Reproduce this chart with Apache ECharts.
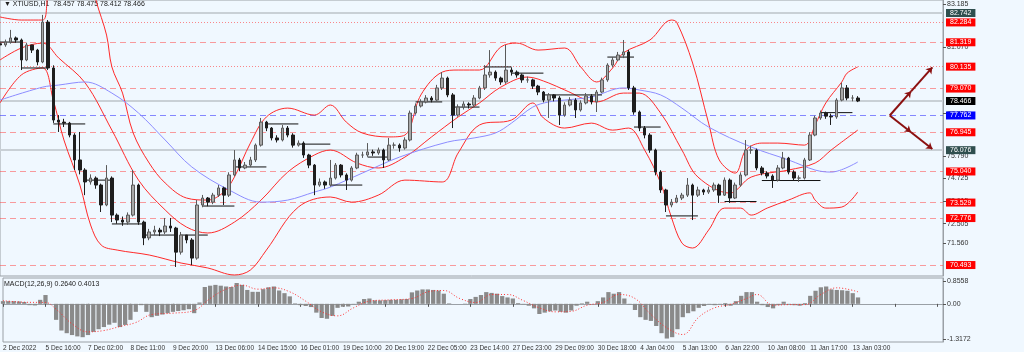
<!DOCTYPE html>
<html>
<head>
<meta charset="utf-8">
<script src="https://cdn.jsdelivr.net/npm/echarts@6/dist/echarts.min.js"></script>
<style>
html, body { margin: 0; padding: 0; background: #f0f8ff; }
#chart { width: 1024px; height: 352px; }
</style>
</head>
<body>
<div id="chart"></div>
<script>
// time labels, one every 8 candles (each candle = 4 x H1)
const timeLabels = ['2 Dec 2022', '5 Dec 16:00', '7 Dec 02:00', '8 Dec 11:00', '9 Dec 20:00', '13 Dec 06:00',
    '14 Dec 15:00', '16 Dec 01:00', '19 Dec 10:00', '20 Dec 19:00', '22 Dec 05:00', '23 Dec 14:00',
    '27 Dec 23:00', '29 Dec 09:00', '30 Dec 18:00', '4 Jan 04:00', '5 Jan 13:00', '6 Jan 22:00',
    '10 Jan 08:00', '11 Jan 17:00', '13 Jan 03:00']
const slotCount = 178

// open, close, low, high
const ohlc = [
    [81.25, 81.19, 81.05, 81.40], [81.19, 81.33, 81.10, 81.45], [81.33, 81.53, 81.25, 81.92], [81.53, 81.43, 81.30, 81.60],
    [81.43, 80.46, 79.97, 81.50], [80.46, 81.19, 80.40, 81.30], [81.19, 80.94, 80.80, 81.10], [80.94, 80.36, 80.20, 81.00],
    [80.36, 82.30, 80.30, 82.65], [82.30, 80.07, 79.97, 82.40], [80.07, 77.54, 77.40, 80.20], [77.54, 77.44, 76.96, 77.78],
    [77.44, 77.39, 77.20, 77.60], [77.39, 76.81, 76.70, 77.45], [76.81, 75.60, 75.11, 76.90], [75.60, 75.11, 74.90, 76.96],
    [75.11, 74.53, 73.89, 75.20], [74.53, 74.72, 74.40, 74.90], [74.72, 74.38, 74.20, 74.80], [74.38, 73.41, 73.07, 74.45],
    [73.41, 74.72, 73.35, 75.35], [74.72, 72.92, 72.58, 74.80], [72.92, 72.68, 72.50, 73.00], [72.68, 72.58, 72.40, 72.85],
    [72.58, 72.92, 72.45, 73.05], [72.92, 74.38, 72.85, 75.11], [74.38, 72.58, 72.45, 74.45], [72.58, 71.81, 71.46, 72.65],
    [71.81, 72.10, 71.70, 72.25], [72.10, 72.19, 71.95, 72.40], [72.19, 72.10, 71.90, 72.30], [72.10, 72.39, 72.00, 72.78],
    [72.39, 72.29, 72.10, 72.78], [72.29, 71.12, 70.40, 72.35], [71.12, 71.95, 71.00, 72.10], [71.95, 71.71, 71.55, 71.90],
    [71.71, 70.83, 70.49, 71.80], [70.83, 73.41, 70.75, 73.65], [73.41, 73.75, 73.30, 73.90], [73.75, 73.55, 73.35, 73.80],
    [73.55, 73.89, 73.45, 74.00], [73.89, 74.24, 73.80, 74.38], [74.24, 73.89, 73.41, 74.30], [73.89, 74.87, 73.80, 75.00],
    [74.87, 75.60, 74.80, 76.08], [75.60, 75.21, 75.05, 75.70], [75.21, 75.35, 75.15, 75.50], [75.35, 75.60, 75.25, 75.75],
    [75.60, 76.32, 75.50, 76.40], [76.32, 77.44, 76.25, 77.64], [77.44, 77.15, 77.00, 77.50], [77.15, 76.67, 76.55, 77.20],
    [76.67, 76.57, 76.45, 76.80], [76.57, 77.15, 76.50, 77.30], [77.15, 76.81, 76.70, 77.25], [76.81, 76.32, 76.20, 76.90],
    [76.32, 76.42, 76.25, 76.55], [76.42, 75.84, 75.70, 76.50], [75.84, 75.35, 75.20, 75.90], [75.35, 74.38, 73.89, 75.40],
    [74.38, 74.53, 74.30, 74.70], [74.53, 74.38, 74.20, 74.60], [74.38, 74.72, 74.30, 75.60], [74.72, 75.35, 74.65, 75.45],
    [75.35, 74.87, 74.75, 75.40], [74.87, 74.62, 74.14, 74.95], [74.62, 75.21, 74.55, 75.30], [75.21, 75.84, 75.15, 75.95],
    [75.84, 75.84, 75.70, 76.00], [75.84, 75.99, 75.75, 76.42], [75.99, 75.94, 75.80, 76.10], [75.94, 76.08, 75.85, 76.20],
    [76.08, 75.60, 75.21, 76.15], [75.60, 76.32, 75.55, 76.67], [76.32, 76.32, 76.15, 76.45], [76.32, 76.18, 76.00, 76.40],
    [76.18, 76.57, 76.10, 76.70], [76.57, 77.88, 76.50, 78.00], [77.88, 78.22, 77.80, 78.35], [78.22, 78.42, 78.15, 78.55],
    [78.42, 78.61, 78.35, 78.75], [78.61, 78.51, 78.40, 78.70], [78.51, 79.10, 78.45, 79.25], [79.10, 79.58, 79.00, 79.87],
    [79.58, 78.76, 78.65, 79.65], [78.76, 77.78, 77.15, 78.85], [77.78, 78.17, 77.70, 78.30], [78.17, 78.32, 78.05, 78.45],
    [78.32, 78.27, 78.10, 78.40], [78.27, 78.61, 78.20, 78.75], [78.61, 79.10, 78.55, 79.20], [79.10, 79.73, 79.00, 80.21],
    [79.73, 79.87, 79.60, 80.94], [79.87, 79.58, 79.45, 79.95], [79.58, 79.39, 79.25, 79.65], [79.39, 79.97, 79.30, 81.19],
    [79.97, 79.87, 79.70, 80.10], [79.87, 79.73, 79.60, 79.95], [79.73, 79.49, 79.35, 79.80], [79.49, 79.49, 79.35, 79.65],
    [79.49, 79.19, 79.05, 79.55], [79.19, 78.90, 78.75, 79.25], [78.90, 78.51, 78.40, 78.95], [78.51, 78.76, 77.64, 78.85],
    [78.76, 78.61, 78.45, 78.80], [78.61, 77.78, 77.30, 78.70], [77.78, 78.27, 77.70, 78.40], [78.27, 78.51, 78.20, 78.65],
    [78.51, 78.03, 77.64, 78.60], [78.03, 78.37, 77.95, 78.50], [78.37, 78.71, 78.30, 78.85], [78.71, 78.42, 78.30, 78.80],
    [78.42, 78.90, 77.93, 79.00], [78.90, 79.49, 78.85, 79.60], [79.49, 80.21, 79.40, 80.30], [80.21, 80.46, 80.10, 80.60],
    [80.46, 80.70, 80.40, 80.85], [80.70, 80.85, 80.55, 81.43], [80.85, 79.10, 79.00, 80.95], [79.10, 77.93, 77.80, 79.20],
    [77.93, 77.15, 77.00, 78.00], [77.15, 76.81, 76.65, 77.25], [76.81, 76.08, 75.95, 76.90], [76.08, 75.01, 74.85, 76.15],
    [75.01, 74.14, 74.00, 75.10], [74.14, 73.41, 73.07, 74.20], [73.41, 73.55, 73.30, 73.70], [73.55, 73.75, 73.50, 73.90],
    [73.75, 73.89, 73.65, 74.00], [73.89, 74.38, 73.80, 74.72], [74.38, 73.89, 72.68, 74.45], [73.89, 74.14, 73.80, 74.30],
    [74.14, 74.04, 73.90, 74.20], [74.04, 74.14, 73.95, 74.30], [74.14, 74.38, 74.05, 74.50], [74.38, 73.89, 73.51, 74.45],
    [73.89, 74.62, 73.85, 74.75], [74.62, 73.75, 73.51, 74.70], [73.75, 74.38, 73.70, 74.50], [74.38, 74.87, 74.30, 75.00],
    [74.87, 76.08, 74.80, 76.57], [76.08, 76.08, 75.90, 76.30], [76.08, 75.21, 75.10, 76.15], [75.21, 74.96, 74.85, 75.30],
    [74.96, 74.82, 74.70, 75.05], [74.82, 74.62, 74.24, 74.90], [74.62, 75.21, 74.55, 75.35], [75.21, 75.69, 75.15, 75.99],
    [75.69, 75.01, 74.90, 75.75], [75.01, 74.72, 74.60, 75.10], [74.72, 74.72, 74.53, 74.85], [74.72, 75.60, 74.65, 75.70],
    [75.60, 76.81, 75.55, 76.95], [76.81, 77.64, 76.75, 77.75], [77.64, 77.88, 77.55, 78.00], [77.88, 77.73, 77.60, 77.95],
    [77.73, 77.69, 77.30, 77.85], [77.69, 78.51, 77.60, 78.60], [78.51, 79.10, 78.45, 79.35], [79.10, 78.61, 78.50, 79.24],
    [78.61, 78.61, 78.45, 78.75], [78.61, 78.466, 78.412, 78.70]
]

// bollinger bands and moving average, [candle index, price]
const bbUpper = [[0, 82.55], [4, 82.40], [8, 82.40], [9, 83.62], [11, 85.32], [14, 85.80], [17, 84.59], [18, 83.37],
    [20, 81.67], [21, 80.12], [23, 78.85], [25, 76.91], [28, 75.45], [31, 74.48], [35, 73.75], [39, 73.65], [42, 74.04],
    [44, 74.77], [47, 76.42], [50, 77.69], [54, 78.12], [59, 77.78], [62, 78.27], [65, 77.44], [68, 76.91], [73, 76.72],
    [76, 76.81], [79, 78.76], [83, 79.87], [86, 79.97], [90, 79.97], [94, 81.09], [97, 81.28], [101, 80.94], [106, 81.04],
    [109, 80.12], [112, 79.39], [115, 80.07], [117, 80.80], [122, 81.43], [126, 82.40], [127, 82.30], [130, 80.31],
    [133, 77.39], [135, 75.60], [138, 74.96], [140, 76.08], [143, 76.42], [146, 76.42], [151, 76.32], [153, 77.30],
    [155, 78.37], [158, 79.39], [159, 79.82], [161, 80.12]]
const bbMiddle = [[0, 80.46], [4, 81.04], [8, 81.28], [11, 80.56], [16, 79.34], [21, 77.05], [26, 74.62], [31, 73.17],
    [35, 72.34], [39, 72.05], [44, 72.58], [49, 73.65], [54, 75.01], [59, 75.84], [62, 76.08], [67, 75.45], [71, 75.21],
    [76, 75.74], [81, 76.72], [86, 77.69], [90, 78.37], [94, 79.14], [99, 79.63], [103, 79.34], [106, 79.00], [112, 78.42],
    [117, 78.85], [120, 78.85], [124, 77.88], [128, 76.08], [131, 74.77], [137, 73.99], [141, 74.77], [148, 75.11],
    [153, 75.45], [156, 76.08], [161, 77.05]]
const bbLower = [[0, 78.37], [4, 79.73], [8, 80.07], [10, 78.51], [12, 76.57], [15, 74.38], [17, 72.44], [19, 71.46],
    [22, 71.22], [28, 70.98], [34, 70.59], [39, 70.35], [44, 70.01], [47, 70.25], [50, 71.22], [56, 73.31], [62, 73.80],
    [66, 73.55], [71, 73.89], [76, 74.62], [83, 74.53], [86, 75.94], [90, 77.30], [96, 77.54], [100, 78.37], [102, 77.64],
    [106, 77.15], [111, 77.39], [115, 77.05], [118, 77.15], [121, 76.08], [124, 74.48], [126, 72.83], [128, 71.56],
    [130, 71.32], [133, 72.19], [136, 73.26], [139, 73.26], [141, 72.92], [144, 73.26], [148, 73.65], [152, 74.00],
    [153, 73.65], [155, 73.26], [158, 73.31], [161, 74.04]]
const maLine = [[0, 78.51], [8, 79.14], [11, 79.24], [16, 79.39], [21, 78.85], [26, 77.88], [31, 76.57], [36, 75.26],
    [43, 74.14], [49, 73.55], [54, 73.65], [59, 74.04], [62, 74.28], [68, 74.96], [75, 75.74], [84, 76.47], [89, 76.67],
    [93, 76.91], [96, 77.39], [100, 78.17], [103, 78.42], [106, 78.51], [111, 78.66], [117, 79.10], [120, 79.00],
    [124, 78.76], [128, 78.12], [133, 77.20], [141, 76.23], [148, 75.60], [153, 75.11], [156, 75.01], [161, 75.50]]

// daily open segments: [from index, to index, price]
const dayOpens = [[0, 4, 81.33], [4, 9, 80.07], [10, 16, 77.35], [16, 21, 74.62], [21, 27, 72.49], [27, 33, 71.95],
    [34, 39, 71.95], [38, 44, 73.36], [44, 50, 75.26], [50, 56, 77.35], [56, 62, 76.37], [62, 68, 74.38], [69, 73, 75.74],
    [78, 83, 78.42], [85, 90, 78.17], [91, 96, 80.12], [96, 102, 79.82], [102, 113, 78.76], [114, 119, 80.60],
    [119, 124, 77.20], [125, 131, 72.88], [136, 142, 73.58], [143, 154, 74.60], [154, 160, 77.90]]

// levels
const redDashLevels = [81.319, 79.070, 76.945, 75.040, 73.529, 72.776, 70.493]
const redDotLevels = [82.284, 80.135]
const blueLevel = 77.762
const greyLevels = [82.742, 76.076]
const bidLevel = 78.466
const priceTicks = [83.185, 81.070, 77.850, 75.790, 74.725, 73.615, 72.505, 71.560]

// projection arrows: [from index, from price, to index, to price]
const arrows = [[167, 77.762, 171, 78.93], [171, 78.93, 175, 80.10], [167, 77.762, 171, 76.95], [171, 76.95, 175, 76.13]]

// MACD histogram per candle and signal line
const macdHist = [0.10, 0.10, 0.10, 0.09, 0.07, -0.05, -0.06, 0.15, 0.33, 0.00, -0.60, -1.00, -1.10, -1.17, -1.22, -1.25,
    -1.17, -1.05, -0.95, -0.87, -0.78, -0.71, -0.87, -0.79, -0.60, -0.30, -0.05, -0.30, -0.50, -0.45, -0.40, -0.35,
    -0.30, -0.27, -0.24, -0.20, -0.35, 0.05, 0.63, 0.68, 0.71, 0.68, 0.65, 0.63, 0.78, 0.71, 0.52, 0.45, 0.45, 0.55,
    0.62, 0.65, 0.50, 0.40, 0.28, 0.02, -0.05, -0.08, -0.12, -0.33, -0.53, -0.56, -0.45, -0.15, -0.11, -0.10, -0.02,
    0.08, 0.18, 0.20, 0.13, 0.13, 0.14, 0.15, 0.15, 0.17, 0.18, 0.43, 0.50, 0.54, 0.54, 0.52, 0.50, 0.38, 0.02, 0.00,
    0.00, 0.01, 0.18, 0.26, 0.33, 0.44, 0.41, 0.38, 0.29, 0.24, 0.20, 0.03, -0.02, -0.07, -0.17, -0.38, -0.33, -0.28,
    -0.25, -0.30, -0.33, -0.25, -0.07, 0.02, 0.08, 0.00, 0.10, 0.24, 0.44, 0.38, 0.44, 0.20, -0.02, -0.23, -0.50, -0.60,
    -0.64, -0.83, -1.10, -1.30, -1.25, -0.95, -0.50, -0.35, -0.28, -0.15, -0.08, -0.02, -0.05, -0.02, 0.03, -0.07, 0.10,
    0.30, 0.44, 0.44, 0.08, -0.05, -0.12, -0.17, -0.05, 0.08, -0.02, -0.05, -0.07, 0.03, 0.30, 0.49, 0.62, 0.65, 0.54,
    0.52, 0.51, 0.49, 0.40, 0.24]
const macdSignal = [[0, 0.12], [4, 0.06], [8, 0.05], [10, -0.2], [13, -0.75], [16, -1.05], [19, -1.0], [22, -0.85],
    [25, -0.7], [28, -0.4], [32, -0.35], [36, -0.25], [39, 0.2], [42, 0.55], [45, 0.7], [48, 0.55], [51, 0.6], [54, 0.45],
    [57, 0.1], [60, -0.3], [63, -0.45], [66, -0.15], [69, 0.1], [73, 0.15], [77, 0.2], [80, 0.45], [83, 0.5], [86, 0.2],
    [89, 0.05], [92, 0.35], [95, 0.35], [98, 0.12], [101, -0.15], [104, -0.3], [107, -0.28], [110, -0.05], [113, 0.05],
    [116, 0.35], [119, 0.2], [122, -0.4], [125, -0.9], [128, -1.15], [131, -0.5], [134, -0.15], [137, -0.02], [140, 0.2],
    [142, 0.35], [145, -0.05], [148, -0.03], [151, -0.03], [154, 0.35], [157, 0.6], [161, 0.45]]
const macdTicks = [0.8558, 0, -1.3172]

const categories = []
for (let i = 0; i < slotCount; i++) {
    categories.push(i % 8 === 0 && timeLabels[i / 8] ? timeLabels[i / 8] : '')
}

const font = '"Liberation Sans Narrow", "Liberation Sans", sans-serif'
const boxLabel = (bg) => ({
    show: true,
    position: 'end',
    distance: 3,
    formatter: (p) => Number(p.value).toFixed(3),
    color: '#fff',
    backgroundColor: bg,
    fontSize: 7,
    fontFamily: 'Liberation Sans',
    padding: [1, 4, 0, 4]
})

const levelLines = []
redDashLevels.forEach(v => levelLines.push({
    yAxis: v, lineStyle: { color: 'rgba(255,60,60,0.5)', type: [6, 4], width: 1 }, label: boxLabel('#ff0000')
}))
redDotLevels.forEach(v => levelLines.push({
    yAxis: v, lineStyle: { color: 'rgba(255,60,60,0.6)', type: [1, 2], width: 1 }, label: boxLabel('#ff0000')
}))
levelLines.push({ yAxis: blueLevel, lineStyle: { color: 'rgba(60,60,255,0.6)', type: [6, 4], width: 1 }, label: boxLabel('#0000ff') })
greyLevels.forEach(v => levelLines.push({
    yAxis: v, lineStyle: { color: '#c9d0d6', type: 'solid', width: 2 }, label: boxLabel('#2f4f4f')
}))
levelLines.push({ yAxis: bidLevel, lineStyle: { color: '#c9d0d6', type: 'solid', width: 2 }, label: boxLabel('#000000') })

const arrowLines = arrows.map(a => [
    { coord: [a[0], a[1]], symbol: 'none' },
    { coord: [a[2], a[3]], symbol: 'arrow', symbolSize: 6, lineStyle: { color: '#8b1010', width: 2, type: 'solid' }, label: { show: false } }
])

const bandSeries = (data, color) => ({
    type: 'line', data, smooth: 0.35, symbol: 'none', silent: true,
    lineStyle: { color, width: 1 }, xAxisIndex: 0, yAxisIndex: 0, z: 3
})

const dayOpenSeries = dayOpens.map(d => ({
    type: 'line', data: [[d[0], d[2]], [d[1], d[2]]], symbol: 'none', silent: true,
    lineStyle: { color: '#111', width: 1 }, xAxisIndex: 0, yAxisIndex: 0, z: 4
}))

const mChart = echarts.init(document.getElementById('chart'))
const option = {
    animation: false,
    backgroundColor: '#f0f8ff',
    grid: [
        { left: 0, right: 81, top: 0, height: 276, show: true, borderColor: '#9aa0a6', borderWidth: 1, backgroundColor: 'transparent' },
        { left: 0, right: 81, top: 278, height: 64, show: true, borderColor: '#9aa0a6', borderWidth: 1, backgroundColor: 'transparent' }
    ],
    xAxis: [
        { type: 'category', gridIndex: 0, data: categories, boundaryGap: false, show: false },
        {
            type: 'category', gridIndex: 1, data: categories, boundaryGap: false,
            axisLine: { lineStyle: { color: '#9aa0a6' } },
            axisTick: { show: true, interval: (i) => i % 8 === 0, length: 3, lineStyle: { color: '#555' } },
            axisLabel: { interval: 0, align: 'left', margin: 3, fontSize: 6.5, fontFamily: font, color: '#333' },
            splitLine: { show: false }
        }
    ],
    yAxis: [
        {
            type: 'value', gridIndex: 0, position: 'right', min: 69.96, max: 83.374, scale: true,
            axisLine: { show: true, lineStyle: { color: '#9aa0a6' } },
            axisTick: { show: true, customValues: priceTicks, length: 3, lineStyle: { color: '#555' } },
            axisLabel: { customValues: priceTicks, formatter: (v) => v.toFixed(3), margin: 4, fontSize: 7, fontFamily: font, color: '#333' },
            splitLine: { show: false }
        },
        {
            type: 'value', gridIndex: 1, position: 'right', min: -1.43, max: 0.968,
            axisLine: { show: true, lineStyle: { color: '#9aa0a6' } },
            axisTick: { show: true, customValues: macdTicks, length: 3, lineStyle: { color: '#555' } },
            axisLabel: { customValues: macdTicks, formatter: (v) => v === 0 ? '0.00' : v.toFixed(4), margin: 4, fontSize: 7, fontFamily: font, color: '#333' },
            splitLine: { show: false }
        }
    ],
    graphic: [
        { type: 'text', left: 4, top: 1, style: { text: '▼ XTIUSD,H1  78.457 78.475 78.412 78.466', fontSize: 7, fontFamily: 'Liberation Sans', fill: '#222' } },
        { type: 'text', left: 4, top: 281, style: { text: 'MACD(12,26,9) 0.2640 0.4013', fontSize: 7, fontFamily: 'Liberation Sans', fill: '#222' } }
    ],
    series: [
        {
            type: 'candlestick', data: ohlc, xAxisIndex: 0, yAxisIndex: 0, barWidth: 3, z: 5,
            itemStyle: { color: '#a8a8a8', color0: '#1e1e1e', borderColor: '#5a5a5a', borderColor0: '#1e1e1e', borderWidth: 1 },
            markLine: { silent: true, symbol: ['none', 'none'], precision: 3, animation: false, data: levelLines.concat(arrowLines), z: 2 }
        },
        bandSeries(bbUpper, '#ff2a2a'),
        bandSeries(bbMiddle, '#ff2a2a'),
        bandSeries(bbLower, '#ff2a2a'),
        bandSeries(maLine, '#8c8cff'),
        ...dayOpenSeries,
        {
            type: 'bar', data: macdHist, xAxisIndex: 1, yAxisIndex: 1, barCategoryGap: '20%', silent: true,
            itemStyle: { color: '#8a8a8a' }
        },
        {
            type: 'line', data: macdSignal, xAxisIndex: 1, yAxisIndex: 1, smooth: 0.4, symbol: 'none', silent: true,
            lineStyle: { color: '#ff3030', width: 1, type: [1, 2] }, z: 4
        }
    ]
}
mChart.setOption(option)
</script>
</body>
</html>
